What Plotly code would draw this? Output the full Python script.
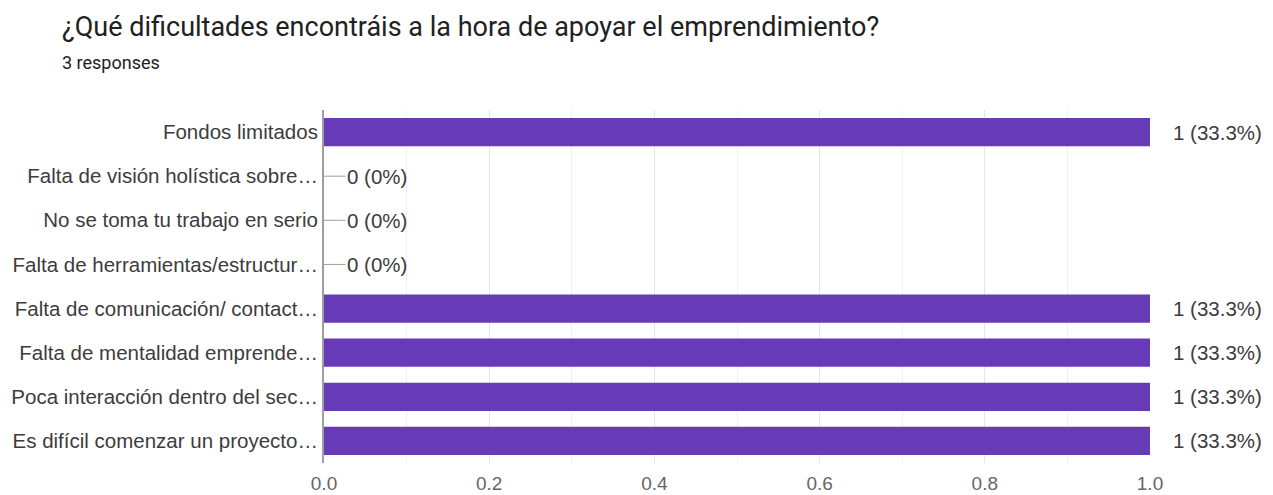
import plotly.graph_objects as go

title = "¿Qué dificultades encontráis a la hora de apoyar el emprendimiento?"
subtitle = "3 responses"
categories = [
    "Fondos limitados",
    "Falta de visión holística sobre…",
    "No se toma tu trabajo en serio",
    "Falta de herramientas/estructur…",
    "Falta de comunicación/ contact…",
    "Falta de mentalidad emprende…",
    "Poca interacción dentro del sec…",
    "Es difícil comenzar un proyecto…",
]
counts = [1, 0, 0, 0, 1, 1, 1, 1]
total_responses = 3
x_ticks = [0.0, 0.2, 0.4, 0.6, 0.8, 1.0]

PURPLE = "#673ab7"
FAM = "Liberation Sans, Arial, sans-serif"
LABEL_FONT = dict(family=FAM, size=20.5, color="#3c3c3c")

fig = go.Figure(
    go.Bar(
        x=counts,
        y=categories,
        orientation="h",
        marker=dict(color=PURPLE, line=dict(width=0)),
        hoverinfo="skip",
    )
)

annotations = []
for cat, v in zip(categories, counts):
    pct = v / total_responses * 100
    pct_txt = f"{pct:.1f}%" if v else "0%"
    txt = f"{v} ({pct_txt})"
    if v == 0:
        annotations.append(dict(
            x=0, y=cat, xref="x", yref="y", text=txt, showarrow=True,
            arrowhead=0, arrowwidth=1, arrowcolor="#9e9e9e", ax=53, ay=0,
            font=LABEL_FONT, standoff=0,
        ))
    else:
        annotations.append(dict(
            x=v, y=cat, xref="x", yref="y", text=txt, showarrow=False,
            xanchor="left", xshift=21, font=LABEL_FONT,
        ))

annotations += [
    dict(x=0, y=1, xref="paper", yref="paper", xanchor="left", yanchor="middle",
         xshift=-264, yshift=83, text=title, showarrow=False,
         font=dict(family="Roboto, sans-serif", size=27, color="#212121")),
    dict(x=0, y=1, xref="paper", yref="paper", xanchor="left", yanchor="middle",
         xshift=-264, yshift=48, text=subtitle, showarrow=False,
         font=dict(family="Roboto, sans-serif", size=18, color="#212121")),
]

fig.update_layout(
    width=1265,
    height=487,
    margin=dict(l=316, r=123, t=102, b=32, autoexpand=False),
    paper_bgcolor="white",
    plot_bgcolor="white",
    showlegend=False,
    bargap=0.36,
    font=dict(family=FAM, size=20.5, color="#3c3c3c"),
    xaxis=dict(
        range=[0, 1],
        tickvals=x_ticks,
        ticktext=[f"{t:.1f}" for t in x_ticks],
        showgrid=True,
        gridcolor="#e6e6e6",
        gridwidth=1,
        minor=dict(dtick=0.1, showgrid=True, gridcolor="#f0f0f0"),
        zeroline=False,
        showline=False,
        ticks="",
        automargin=False,
        ticklabelstandoff=7,
        tickfont=dict(family=FAM, color="#666666", size=19),
        fixedrange=True,
    ),
    yaxis=dict(
        autorange="reversed",
        showline=True,
        linecolor="#9e9e9e",
        linewidth=2,
        showgrid=False,
        ticks="",
        automargin=False,
        ticklabelstandoff=0,
        tickfont=dict(family=FAM, color="#3c3c3c", size=20.5),
        fixedrange=True,
    ),
    annotations=annotations,
)

fig.write_html("out.html")
